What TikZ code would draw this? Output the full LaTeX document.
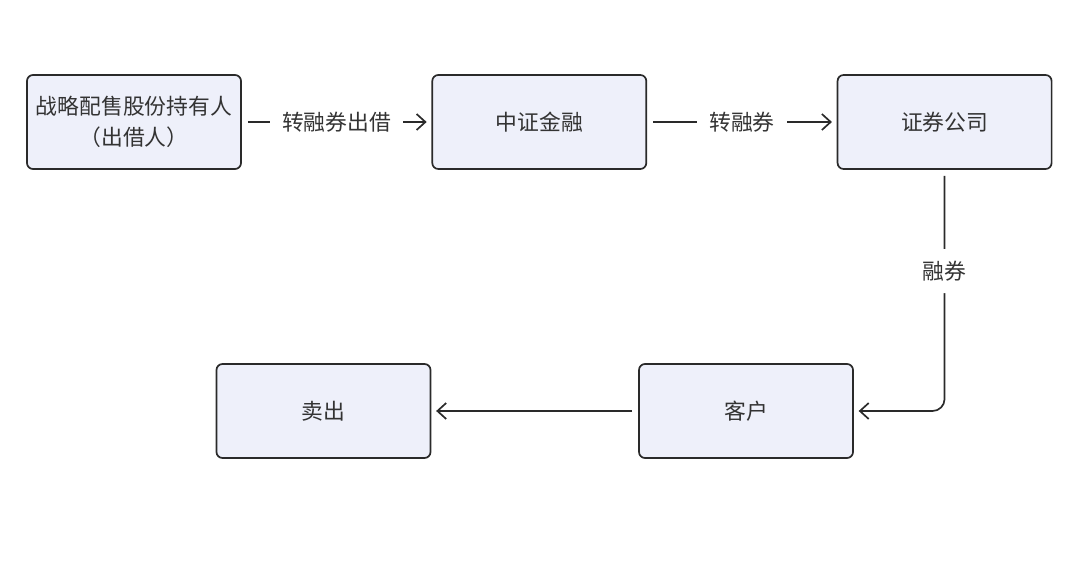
\documentclass[tikz,border=0pt]{standalone}
\usepackage{xcolor}
\usepackage{fontspec}
\setmainfont{Noto Sans CJK SC}
\usetikzlibrary{arrows.meta, positioning}
\definecolor{boxfill}{HTML}{EEF0FA}
\definecolor{lineclr}{HTML}{2A2A2A}
\definecolor{textclr}{HTML}{333333}

\begin{document}
\begin{tikzpicture}[
    node distance=4.74cm,
    box/.style={draw=lineclr, line width=1.2pt, rounded corners=0.15cm, minimum width=5.35cm, minimum height=2.35cm, align=center, font=\fontsize{15.5}{22.5}\selectfont, text=textclr, fill=boxfill},
    lbl/.style={fill=white, inner xsep=0.3cm, font=\fontsize{15.5}{18}\selectfont, text=textclr},
    arrow/.style={-{Straight Barb[length=2.2mm, width=4mm]}, line width=1.2pt, color=lineclr, shorten <=0.15cm, shorten >=0.12cm}
]
\useasboundingbox (0,0) rectangle (27,14);
\node[box] (holder) at (3.35,10.95) {战略配售股份持有人\\（出借人）};
\node[box] (csf) [right=of holder] {中证金融};
\node[box] (broker) [right=of csf] {证券公司};
\node[box] (client) at (18.65,3.725) {客户};
\node[box] (sell) at (8.0875,3.725) {卖出};

\draw[arrow] (holder) -- node[lbl] {转融券出借} (csf);
\draw[arrow] (csf) -- node[lbl] {转融券} (broker);
\draw[arrow, rounded corners=0.3cm] (broker.south) |- node[lbl, pos=0.21, inner xsep=2pt, inner ysep=0.3cm] {融券} (client.east);
\draw[arrow] (client) -- (sell);
\end{tikzpicture}
\end{document}
